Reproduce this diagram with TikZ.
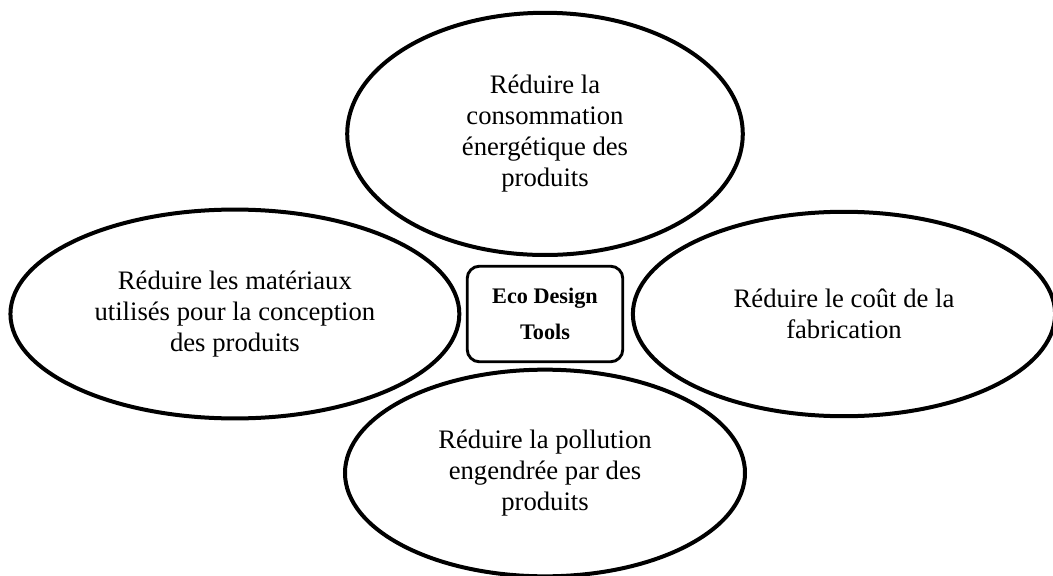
\documentclass[tikz,border=0pt]{standalone}
\usepackage{fontspec}
\setmainfont{Liberation Serif}
\usetikzlibrary{positioning, shapes.geometric}
\tikzset{goal/.style={ellipse, draw, line width=1.8pt, inner sep=0pt, align=center, font=\fontsize{12}{14}\selectfont}}
\tikzset{core/.style={draw, rounded corners=5.5pt, line width=1.3pt, align=center, minimum width=70pt, minimum height=43pt, font=\fontsize{10}{16.5}\selectfont\bfseries}}

\begin{document}
\begin{tikzpicture}[x=0.45pt, y=-0.45pt]
	\useasboundingbox (0,0) rectangle (1053,576);
	\node[core] (tools) at (545,314) {Eco Design\\Tools};
	%
	\node[goal, minimum width=178pt, minimum height=109pt, above=3.5pt of tools] (energy)
		{Réduire la\\consommation\\énergétique des\\produits};
	\node[goal, minimum width=202pt, minimum height=94pt, left=2pt of tools] (matter)
		{Réduire les matériaux\\utilisés pour la conception\\des produits};
	\node[goal, minimum width=190pt, minimum height=92pt, right=3pt of tools] (cost)
		{Réduire le coût de la\\fabrication};
	\node[goal, minimum width=180pt, minimum height=93pt, below=2pt of tools] (pollution)
		{Réduire la pollution\\engendrée par des\\produits};
\end{tikzpicture}
\end{document}
